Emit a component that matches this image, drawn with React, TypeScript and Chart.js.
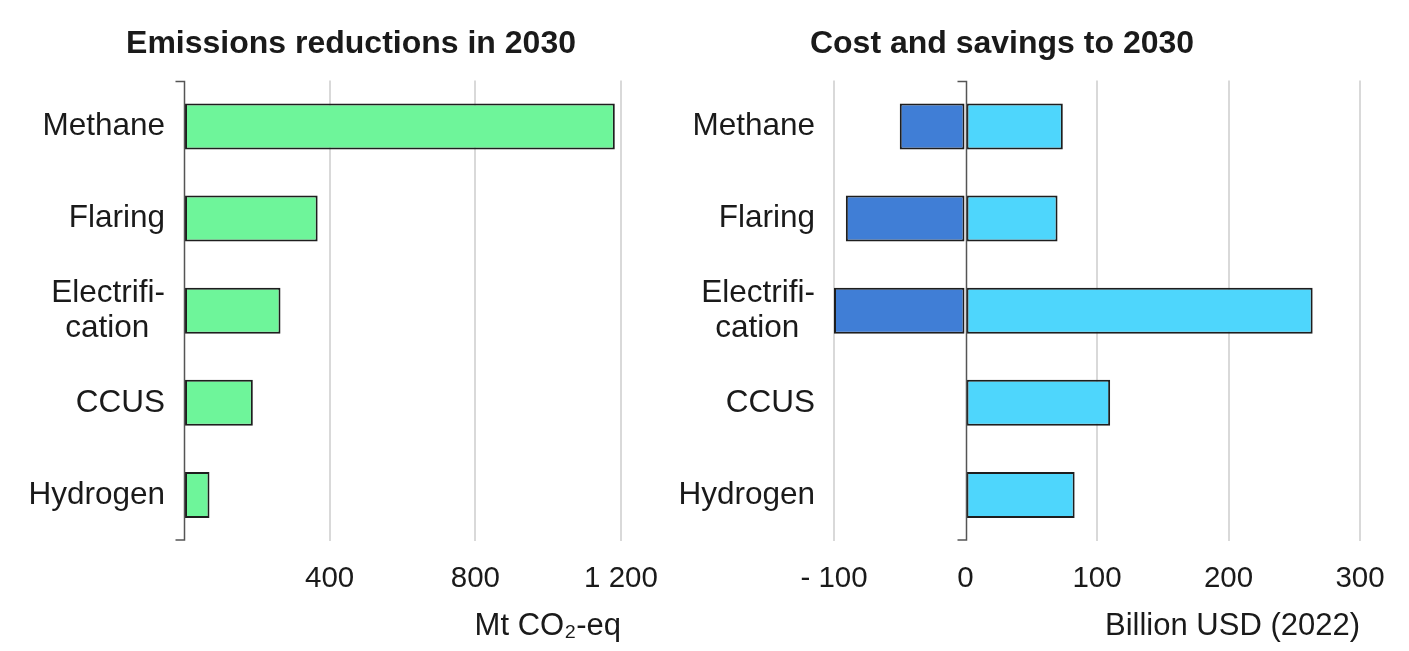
import React, { useEffect, useRef } from 'react';
import { Chart, registerables } from 'chart.js';

Chart.register(...registerables);

// ---- data ----
const categories: (string | string[])[] = ['Methane', 'Flaring', ['Electrifi-', 'cation\u2002'], 'CCUS', 'Hydrogen'];
const emissionsReductions = [1183, 367, 265, 189, 70]; // Mt CO2-eq
const costs = [-50, -91, -100, null, null]; // Billion USD (2022)
const savings = [74, 70, 264, 110, 83]; // Billion USD (2022)
const emissionsAxis = { min: 0, max: 1200, step: 400 };
const costAxis = { min: -100, max: 300, step: 100 };
const leftTitle = 'Emissions reductions in 2030';
const rightTitle = 'Cost and savings to 2030';
const leftUnit = 'Mt CO\u2082-eq';
const rightUnit = 'Billion USD (2022)';

// ---- style ----
const FAMILY = '"Liberation Sans", Arial, "DejaVu Sans", sans-serif';
const TEXT = '#1a1a1a';
const GRID = '#d9d9d9';
const AXIS = '#555555';
const BORDER = '#1e1e1e';
const GREEN = '#6ef59a';
const DARKBLUE = '#407ed6';
const CYAN = '#4ed6fc';

const fmtSpace = (v: number) => String(v).replace(/\B(?=(\d{3})+(?!\d))/g, ' ');

const zeroAxisPlugin = {
  id: 'zeroAxis',
  afterDatasetsDraw(chart: any) {
    const { ctx, chartArea, scales } = chart;
    const x = Math.round(scales.x.getPixelForValue(0)) + 0.5;
    ctx.save();
    ctx.strokeStyle = AXIS;
    ctx.lineWidth = 1.5;
    ctx.beginPath();
    ctx.moveTo(x - 9, chartArea.top + 1);
    ctx.lineTo(x, chartArea.top + 1);
    ctx.lineTo(x, chartArea.bottom - 1);
    ctx.lineTo(x - 9, chartArea.bottom - 1);
    ctx.stroke();
    ctx.restore();
  },
};

function makeOptions(opts: {
  title: string;
  unit: string;
  min: number;
  max: number;
  step: number;
  spacerRight: number;
  padRight: number;
  yWidth: number;
  stacked: boolean;
  tickFmt: (v: number) => string;
}) {
  const scales: any = {
    x: {
      stacked: opts.stacked,
      min: opts.min,
      max: opts.max,
      border: { display: false },
      grid: {
        color: (ctx: any) => (ctx.tick && ctx.tick.value === 0 ? 'rgba(0,0,0,0)' : GRID),
        lineWidth: 2,
        drawTicks: false,
      },
      ticks: {
        stepSize: opts.step,
        padding: 20.5,
        color: TEXT,
        maxRotation: 0,
        autoSkip: false,
        font: { family: FAMILY, size: 29.5 },
        callback: (v: any) => opts.tickFmt(Number(v)),
      },
      title: {
        display: true,
        text: opts.unit,
        align: 'end',
        color: TEXT,
        font: { family: FAMILY, size: 31 },
        padding: { top: 0, bottom: 6 },
      },
      afterFit: (s: any) => {
        s.height = 110;
      },
    },
    y: {
      stacked: opts.stacked,
      border: { display: false },
      grid: { display: false, drawTicks: false },
      ticks: {
        padding: 19,
        color: TEXT,
        autoSkip: false,
        font: { family: FAMILY, size: 31.5, lineHeight: 1.1 },
      },
      afterFit: (s: any) => {
        s.width = opts.yWidth;
      },
    },
  };
  if (opts.spacerRight > 0) {
    // empty right-hand box that reserves room so the plot ends where the reference does
    scales.spacer = {
      type: 'linear',
      axis: 'y',
      position: 'right',
      display: true,
      border: { display: false },
      grid: { display: false, drawTicks: false },
      ticks: { display: false },
      afterFit: (s: any) => {
        s.width = opts.spacerRight;
      },
    };
  }
  return {
    indexAxis: 'y',
    responsive: false,
    animation: false,
    layout: { padding: { left: 0, right: opts.padRight, top: 0, bottom: 0 } },
    plugins: {
      legend: { display: false },
      tooltip: { enabled: false },
      title: {
        display: true,
        text: opts.title,
        color: TEXT,
        font: { family: FAMILY, size: 32, weight: 'bold' },
        padding: { top: 25, bottom: 17 },
      },
    },
    scales,
  };
}

const barStyle = {
  borderColor: BORDER,
  borderWidth: 2,
  borderSkipped: false,
  barPercentage: 0.5,
  categoryPercentage: 1,
};

export default function App() {
  const leftRef = useRef<HTMLCanvasElement>(null);
  const rightRef = useRef<HTMLCanvasElement>(null);

  useEffect(() => {
    const left = new Chart(leftRef.current as HTMLCanvasElement, {
      type: 'bar',
      data: {
        labels: categories as any,
        datasets: [{ label: 'Emissions reductions', data: emissionsReductions, backgroundColor: GREEN, ...barStyle } as any],
      },
      options: makeOptions({
        title: leftTitle,
        unit: leftUnit,
        min: emissionsAxis.min,
        max: emissionsAxis.max,
        step: emissionsAxis.step,
        spacerRight: 81,
        padRight: 0,
        yWidth: 184,
        stacked: false,
        tickFmt: (v) => (v === 0 ? '' : fmtSpace(v)),
      }) as any,
      plugins: [zeroAxisPlugin],
    });

    const right = new Chart(rightRef.current as HTMLCanvasElement, {
      type: 'bar',
      data: {
        labels: categories as any,
        datasets: [
          { label: 'Cost', data: costs, backgroundColor: DARKBLUE, ...barStyle } as any,
          { label: 'Savings', data: savings, backgroundColor: CYAN, ...barStyle } as any,
        ],
      },
      options: makeOptions({
        title: rightTitle,
        unit: rightUnit,
        min: costAxis.min,
        max: costAxis.max,
        step: costAxis.step,
        spacerRight: 0,
        padRight: 49,
        yWidth: 190,
        stacked: true,
        tickFmt: (v) => (v < 0 ? '- ' + Math.abs(v) : String(v)),
      }) as any,
      plugins: [zeroAxisPlugin],
    });

    return () => {
      left.destroy();
      right.destroy();
    };
  }, []);

  return (
    <div
      style={{
        position: 'absolute',
        left: 0,
        top: 0,
        width: 1409,
        height: 651,
        background: '#ffffff',
        overflow: 'hidden',
      }}
    >
      <canvas ref={leftRef} width={702} height={651} style={{ position: 'absolute', left: 0, top: 0, width: 702, height: 651 }} />
      <canvas ref={rightRef} width={765} height={651} style={{ position: 'absolute', left: 644, top: 0, width: 765, height: 651 }} />
    </div>
  );
}
